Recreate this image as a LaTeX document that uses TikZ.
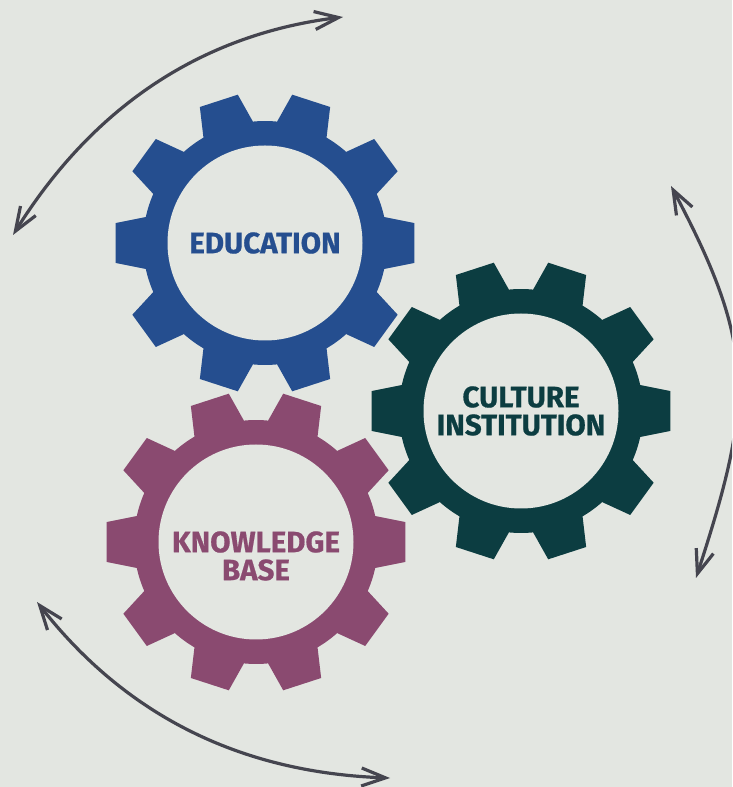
\documentclass[tikz,border=0pt]{standalone}
\usepackage{fontspec}
\setmainfont{Fira Sans}
\usetikzlibrary{arrows.meta, positioning}
\definecolor{paper}{HTML}{E3E6E1}
\definecolor{edublue}{HTML}{254E8F}
\definecolor{cultgreen}{HTML}{0C3D41}
\definecolor{knowplum}{HTML}{8A4A70}
\definecolor{cyclegrey}{HTML}{45454F}

\begin{document}
\begin{tikzpicture}[
  x=1pt, y=1pt,
  hole/.style={circle, fill=paper, inner sep=0pt, minimum size=195pt},
  caption/.style={align=center, font=\fontsize{29.5}{28}\selectfont\bfseries\addfontfeature{FakeBold=0.6}},
  cycle/.style={{Straight Barb[length=24pt,width=18pt]}-{Straight Barb[length=24pt,width=18pt]}, line width=3.2pt, color=cyclegrey},
  gear/.pic={
    \fill[pic actions] (12.3:122)
      foreach \a in {0,36,...,324} {
        arc[start angle=\a+12.3, end angle=\a+23.7, radius=122]
        -- (\a+28.4:150.8) -- (\a+43.6:150.8) -- (\a+48.3:122)
      } -- cycle;
  }
]
\fill[paper] (0,0) rectangle (732,787);
\clip (0,0) rectangle (732,787);

\pic[fill=edublue] at (265,544) {gear};
\pic[fill=cultgreen] at (521,376) {gear};
\pic[fill=knowplum] at (256,245) {gear};

\node[hole] (education) at (265,544) {};
\node[hole] (culture) at (521,376) {};
\node[hole] (knowledge) at (256,245) {};

\node[caption, text=edublue] (edutext) at (education) {EDUCATION};
\node[caption, text=cultgreen] (culttext) at (culture) {CULTURE\\INSTITUTION};
\node[caption, text=knowplum, yshift=-14pt] (knowtext) at (knowledge) {KNOWLEDGE\\BASE};

\coordinate (topstart) at (13,552);
\coordinate (topend) at (343,770);
\coordinate (rightstart) at (671,601);
\coordinate (rightend) at (696,209);
\coordinate (lowstart) at (37,185);
\coordinate (lowend) at (390,9);

\draw[cycle] (topstart) to[out=58, in=187, looseness=0.95] (topend);
\draw[cycle] (rightstart) to[out=-62, in=72, looseness=1.2] (rightend);
\draw[cycle] (lowstart) to[out=-52, in=178, looseness=0.95] (lowend);
\end{tikzpicture}
\end{document}
